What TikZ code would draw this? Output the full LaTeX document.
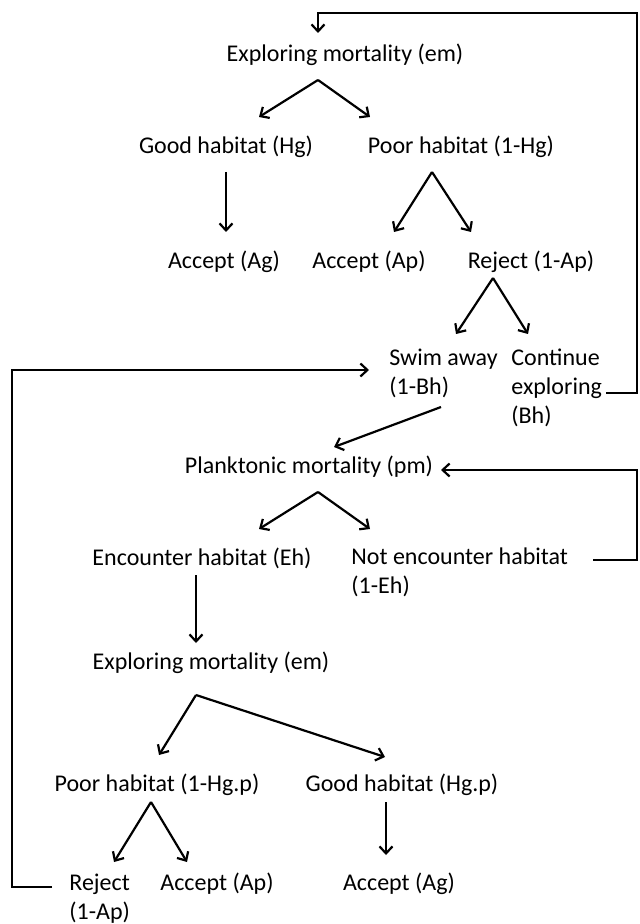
\documentclass[tikz,border=0pt]{standalone}
\usepackage{fontspec}
\setmainfont{Carlito}
\usetikzlibrary{arrows.meta}
\begin{document}
\begin{tikzpicture}[x=0.5pt,y=-0.5pt,
  lbl/.style={inner sep=0pt,font=\fontsize{12}{14.5}\selectfont},
  lbll/.style={lbl,align=left,anchor=west},
  arr/.style={line width=1.1pt,-{Straight Barb[length=3.5pt,width=6.5pt]}}]
\useasboundingbox (0,0) rectangle (639,924);
\node[lbl] (em1) at (345,55) {Exploring mortality (em)};
\node[lbl] (hg) at (226,147) {Good habitat (Hg)};
\node[lbl] (phg) at (461,147) {Poor habitat (1-Hg)};
\node[lbl] (ag) at (224,262) {Accept (Ag)};
\node[lbl] (ap) at (369,262) {Accept (Ap)};
\node[lbl] (rej) at (531,262) {Reject (1-Ap)};
\node[lbll] (swim) at (389,373.5) {Swim away\\(1-Bh)};
\node[lbll] (cont) at (511,388) {Continue\\exploring\\(Bh)};
\node[lbl] (pm) at (309,467) {Planktonic mortality (pm)};
\node[lbl] (eh) at (202,558) {Encounter habitat (Eh)};
\node[lbll] (neh) at (351,572.5) {Not encounter habitat\\(1-Eh)};
\node[lbl] (em2) at (211,663) {Exploring mortality (em)};
\node[lbl] (phgp) at (157,785) {Poor habitat (1-Hg.p)};
\node[lbl] (hgp) at (402,785) {Good habitat (Hg.p)};
\node[lbll] (rej2) at (69,898.5) {Reject\\(1-Ap)};
\node[lbl] (ap2) at (217,884) {Accept (Ap)};
\node[lbl] (ag2) at (399,884) {Accept (Ag)};

\coordinate (em1in) at (318,33);
\coordinate (contout) at (606,393);
\coordinate (swimin) at (369,370);
\coordinate (rej2out) at (52,887);
\coordinate (pmin) at (441,470);
\coordinate (nehout) at (593,560);
\coordinate (em1a) at (318,80);
\coordinate (phga) at (432,172);
\coordinate (reja) at (493,278);
\coordinate (pma) at (318,492);
\coordinate (em2a) at (196,695);
\coordinate (phgpa) at (151,802);

\draw[arr] (contout) -| (637,13) -| (em1in);
\draw[arr] (rej2out) -| (12,370) -- (swimin);
\draw[arr] (nehout) -| (637,470) -- (pmin);
\draw[arr] (em1a) -- (259,117);
\draw[arr] (em1a) -- (370,117);
\draw[arr] (226,172) -- (226,232);
\draw[arr] (phga) -- (394,232);
\draw[arr] (phga) -- (471,232);
\draw[arr] (reja) -- (456,334);
\draw[arr] (reja) -- (528,334);
\draw[arr] (441,407) -- (334,447);
\draw[arr] (pma) -- (259,529);
\draw[arr] (pma) -- (370,529);
\draw[arr] (196,575) -- (196,643);
\draw[arr] (em2a) -- (159,755);
\draw[arr] (em2a) -- (385,757);
\draw[arr] (phgpa) -- (114,862);
\draw[arr] (phgpa) -- (187,862);
\draw[arr] (386,802) -- (386,855);
\end{tikzpicture}
\end{document}
